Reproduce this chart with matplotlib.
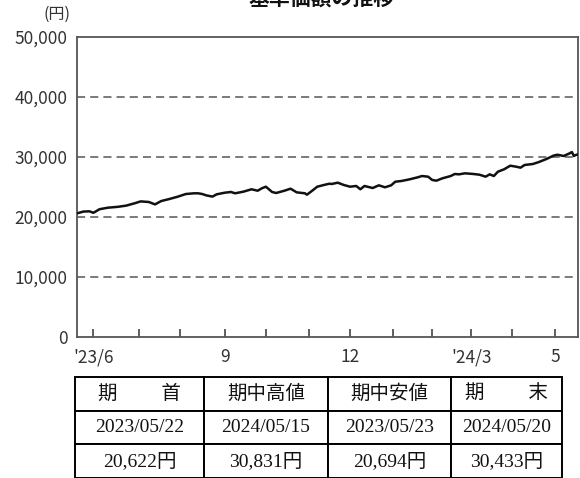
import matplotlib
matplotlib.use("Agg")
import matplotlib.pyplot as plt
import pandas as pd

plt.rcParams['font.family'] = ['Noto Sans CJK JP', 'DejaVu Sans']

# ---------------- data ----------------
title = "基準価額の推移"
unit_label = "(円)"

start_date = "2023-05-22"
end_date = "2024-05-20"
# Japanese market holidays in the period (non-trading weekdays)
holidays = ["2023-07-17", "2023-08-11", "2023-09-18", "2023-10-09", "2023-11-03",
            "2023-11-23", "2024-01-01", "2024-01-02", "2024-01-03", "2024-01-08",
            "2024-02-12", "2024-02-23", "2024-03-20", "2024-04-29", "2024-05-03",
            "2024-05-06"]

dates = ["2023-05-22", "2023-05-23", "2023-05-25", "2023-05-30", "2023-06-01", "2023-06-06",
         "2023-06-12", "2023-06-19", "2023-06-23", "2023-06-29", "2023-07-04", "2023-07-10",
         "2023-07-13", "2023-07-19", "2023-07-25", "2023-07-31", "2023-08-04", "2023-08-10",
         "2023-08-15", "2023-08-17", "2023-08-21", "2023-08-24", "2023-08-28", "2023-09-01",
         "2023-09-06", "2023-09-08", "2023-09-14", "2023-09-21", "2023-09-26", "2023-09-28",
         "2023-10-02", "2023-10-05", "2023-10-10", "2023-10-16", "2023-10-19", "2023-10-24",
         "2023-10-30", "2023-10-31", "2023-11-06", "2023-11-08", "2023-11-14", "2023-11-16",
         "2023-11-17", "2023-11-22", "2023-11-28", "2023-12-01", "2023-12-06", "2023-12-08",
         "2023-12-12", "2023-12-18", "2023-12-21", "2023-12-26", "2023-12-29", "2024-01-05",
         "2024-01-11", "2024-01-17", "2024-01-23", "2024-01-25", "2024-01-30", "2024-02-01",
         "2024-02-05", "2024-02-08", "2024-02-15", "2024-02-19", "2024-02-21", "2024-02-27",
         "2024-03-04", "2024-03-07", "2024-03-12", "2024-03-14", "2024-03-18", "2024-03-21",
         "2024-03-26", "2024-03-29", "2024-04-03", "2024-04-05", "2024-04-09", "2024-04-15",
         "2024-04-18", "2024-04-24", "2024-04-30", "2024-05-02", "2024-05-09", "2024-05-14",
         "2024-05-15", "2024-05-16", "2024-05-17", "2024-05-20"]

nav = [20622, 20694, 20900, 20950, 20700, 21300,
       21550, 21700, 21900, 22280, 22600, 22500,
       22100, 22660, 23000, 23380, 23830, 23950,
       23950, 23830, 23600, 23400, 23780, 24050,
       24170, 23950, 24220, 24620, 24380, 24780,
       25050, 24170, 24000, 24380, 24720, 24110,
       23950, 23720, 24500, 25050, 25400, 25550,
       25500, 25720, 25330, 25050, 25170, 24620,
       25170, 24830, 25280, 24950, 25280, 25880,
       26000, 26280, 26620, 26830, 26720, 26170,
       26050, 26450, 26830, 27170, 27110, 27280,
       27170, 27050, 26720, 27110, 26830, 27550,
       27950, 28550, 28380, 28220, 28670, 28830,
       29170, 29720, 30220, 30380, 30170, 30620,
       30831, 30170, 30350, 30433]

y_ticks = [0, 10000, 20000, 30000, 40000, 50000]
y_tick_labels = ["0", "10,000", "20,000", "30,000", "40,000", "50,000"]
grid_levels = [10000, 20000, 30000, 40000]

x_tick_months = ["2023-06", "2023-07", "2023-08", "2023-09", "2023-10", "2023-11",
                 "2023-12", "2024-01", "2024-02", "2024-03", "2024-04", "2024-05"]
x_tick_labels = ["'23/6", "", "", "9", "", "", "12", "", "", "'24/3", "", "5"]

table_header = ["期　　 首", "期中高値", "期中安値", "期　　 末"]
table_dates = ["2023/05/22", "2024/05/15", "2023/05/23", "2024/05/20"]
table_values = ["20,622円", "30,831円", "20,694円", "30,433円"]
table_col_widths = [129, 124, 123, 111]

# ---------------- trading-day axis ----------------
trading_days = pd.bdate_range(start_date, end_date, freq="C", holidays=holidays)
pos_of = {d: i for i, d in enumerate(trading_days)}
x_vals = [pos_of[pd.Timestamp(d)] for d in dates]
tick_pos = []
for m in x_tick_months:
    p = pd.Period(m)
    first = [i for i, d in enumerate(trading_days) if d.year == p.year and d.month == p.month][0]
    tick_pos.append(first)

# ---------------- figure ----------------
W, H = 580, 478
fig = plt.figure(figsize=(W / 100, H / 100), dpi=100)
ax = fig.add_axes([77 / W, 1 - 337 / H, (578 - 77) / W, 300 / H])

for g in grid_levels:
    ax.axhline(g, color="#707070", lw=1.3, linestyle=(0, (4.5, 2.8)), zorder=1)

ax.plot(x_vals, nav, color="#111111", lw=1.8, zorder=3, solid_joinstyle="round")

ax.set_xlim(0, len(trading_days) - 1)
ax.set_ylim(0, 50000)
ax.set_yticks(y_ticks)
ax.set_yticklabels(y_tick_labels)
ax.set_xticks(tick_pos)
ax.set_xticklabels(x_tick_labels)
ax.tick_params(axis="y", length=0, pad=7, labelsize=12.5, colors="#333333")
ax.tick_params(axis="x", direction="in", length=6, width=1.2, color="#444444",
               pad=8, labelsize=12.5, labelcolor="#333333")
for s in ax.spines.values():
    s.set_color("#555555")
    s.set_linewidth(1.3)

fig.text(322 / W, 1 + 2 / H, title, ha="center", va="center", fontsize=15,
         fontweight="bold", color="#111111")
fig.text(57 / W, 1 - 14 / H, unit_label, ha="center", va="center", fontsize=11.5,
         color="#333333")

# ---------------- table ----------------
tab_left, tab_right, tab_top = 75, 562, 377
tax = fig.add_axes([tab_left / W, 0, (tab_right - tab_left) / W, (H - tab_top) / H])
tax.axis("off")
tot = sum(table_col_widths)
tbl = tax.table(cellText=[table_header, table_dates, table_values],
                colWidths=[w / tot for w in table_col_widths],
                cellLoc="center", bbox=[0, 0, 1, 1])
tbl.auto_set_font_size(False)
for (r, c), cell in tbl.get_celld().items():
    cell.set_edgecolor("#000000")
    cell.set_linewidth(1.4)
    t = cell.get_text()
    t.set_fontsize(14)
    t.set_fontfamily(["Liberation Serif", "Noto Sans CJK JP"])
    t.set_color("#111111")

fig.savefig("out.png", dpi=100)
